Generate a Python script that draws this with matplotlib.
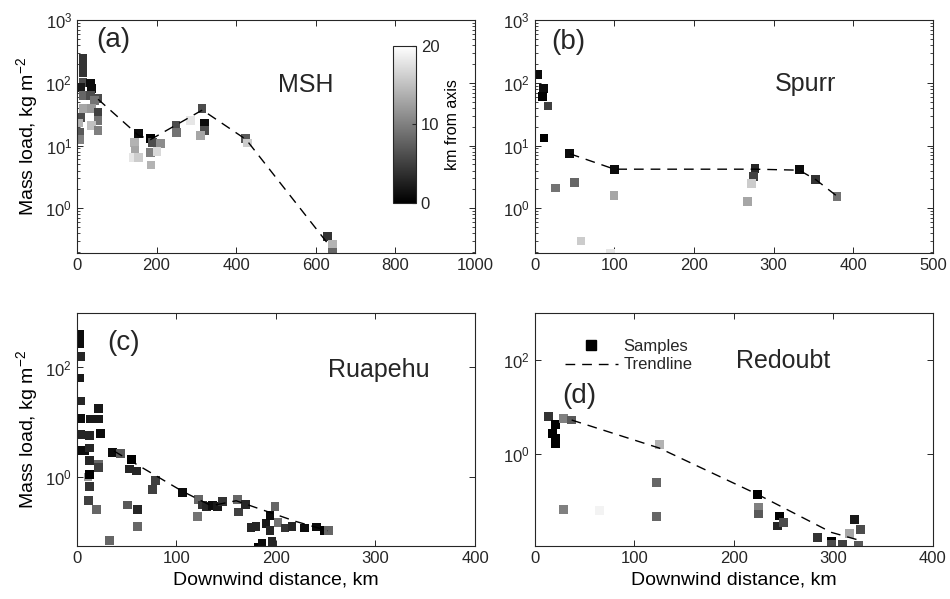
import numpy as np
import matplotlib
matplotlib.use('Agg')
import matplotlib.pyplot as plt
from matplotlib.lines import Line2D
from matplotlib.ticker import NullLocator

plt.rcParams['font.family'] = ['Liberation Sans', 'DejaVu Sans']
plt.rcParams['mathtext.fontset'] = 'custom'
plt.rcParams['mathtext.rm'] = 'Liberation Sans'
plt.rcParams['mathtext.it'] = 'Liberation Sans:italic'
plt.rcParams['mathtext.bf'] = 'Liberation Sans:bold'
plt.rcParams['text.color'] = '#262626'
plt.rcParams['axes.edgecolor'] = '#262626'
plt.rcParams['xtick.color'] = '#262626'
plt.rcParams['ytick.color'] = '#262626'

# (a) Mount St Helens: distance (km), mass load (kg m-2), distance from axis (km)
msh_dist = [15, 15, 15, 15, 8, 34, 37, 15, 34, 53, 45, 15, 37, 53, 8, 53, 5, 37, 53, 6, 6,
            154, 184, 144, 189, 209, 146, 184, 201, 141, 154, 186,
            249, 251, 285, 314, 320, 320, 310, 423, 428, 630, 642, 642]
msh_load = [247, 190, 148, 102, 85, 100, 82, 63, 63, 57, 53, 39, 39, 34, 28, 25, 23, 21, 17.5, 16, 12.6,
            15.7, 13, 11.3, 11.3, 10.9, 8.4, 7.8, 8.1, 6.5, 6.5, 4.9,
            21, 16, 25, 39, 23, 17.5, 14.6, 13, 11, 0.35, 0.26, 0.20]
msh_off = [4, 4, 4, 6, 2, 1, 1, 8, 6, 6, 9, 13, 12, 5, 6, 9, 14, 15, 10, 7, 10,
           1, 0, 14, 6, 11, 13, 10, 17, 18, 16, 14,
           6, 9, 18, 6, 1, 6, 13, 7, 16, 4, 14, 8]
msh_trend_x = [53, 155, 185, 315, 425, 637]
msh_trend_y = [55, 14.5, 12.5, 37, 12.5, 0.24]

# (b) Spurr
spurr_dist = [3, 10.5, 10, 16.5, 11.5, 44, 26, 49.5, 100.5, 99.5, 58, 95,
              276.5, 275, 272.5, 267.5, 332, 353, 379.5]
spurr_load = [136, 81, 61, 43, 13.2, 7.4, 2.1, 2.6, 4.2, 1.58, 0.30, 0.19,
              4.3, 3.2, 2.46, 1.27, 4.1, 2.85, 1.54]
spurr_off = [1, 1, 0, 5, 0, 1, 9, 8, 1, 13, 16, 18,
             3, 5, 16, 13, 1, 4, 9]
spurr_trend_x = [44, 100, 277, 332, 353, 380]
spurr_trend_y = [7.4, 4.2, 4.2, 4.05, 2.85, 1.54]

# (c) Ruapehu
ruap_dist = [2.5, 2.5, 2.5, 4, 2.5, 4, 4, 4, 4, 8, 22, 14, 22, 13, 24, 13, 13, 22, 22, 11, 13, 13,
             12, 20, 33, 36, 44, 55, 53, 60, 51, 61, 61, 79, 76, 106, 122, 121, 126, 130, 136,
             141, 146, 161, 162, 169, 175, 180, 182, 186, 190, 194, 199, 194, 196, 202, 209,
             216, 229, 241, 249, 253]
ruap_load = [400, 330, 270, 159, 64, 24.5, 11.8, 6.0, 3.1, 3.1, 18, 11.5, 11.5, 5.8, 6.2, 3.4, 2.0,
             1.7, 1.5, 1.0, 1.12, 0.68, 0.37, 0.26, 0.069, 2.8, 2.7, 2.1, 1.4, 1.29, 0.31, 0.26,
             0.124, 0.87, 0.59, 0.52, 0.39, 0.19, 0.31, 0.29, 0.30, 0.29, 0.36, 0.39, 0.23, 0.32,
             0.12, 0.124, 0.052, 0.062, 0.14, 0.20, 0.29, 0.105, 0.067, 0.146, 0.118, 0.126,
             0.118, 0.123, 0.105, 0.105]
ruap_off = [1, 1, 1, 3, 2, 3, 1, 3, 1, 1, 2, 2, 2, 3, 1, 3, 3, 8, 5, 12, 0, 4,
            5, 8, 8, 1, 7, 0, 3, 3, 7, 3, 8, 5, 5, 1, 8, 9, 4, 3, 1,
            2, 4, 8, 5, 3, 3, 3, 0, 1, 2, 1, 8, 3, 3, 9, 4,
            3, 1, 1, 0, 8]
ruap_trend_x = [37, 106, 135, 160, 220, 252]
ruap_trend_y = [3.0, 0.55, 0.30, 0.37, 0.155, 0.105]

# (d) Redoubt
red_dist = [13.4, 21, 17.8, 21, 21, 28.5, 37, 28.5, 64.6, 125, 122, 122, 223.5, 225, 225,
            246, 244, 250, 283.7, 298, 298, 309, 316, 321, 327.6, 325]
red_load = [6.3, 4.2, 2.8, 2.2, 1.65, 5.8, 5.3, 0.068, 0.063, 1.63, 0.25, 0.048, 0.142, 0.075,
            0.054, 0.049, 0.030, 0.035, 0.0174, 0.0141, 0.012, 0.012, 0.021, 0.041, 0.025, 0.0114]
red_off = [4, 0, 0, 0, 0, 10, 7, 10, 19, 14, 8, 8, 0, 10, 7, 0, 3, 6, 4, 0, 6, 5, 13, 2, 6, 7]
red_trend_x = [37, 125, 224, 298, 326]
red_trend_y = [5.3, 1.35, 0.14, 0.022, 0.015]

fig = plt.figure(figsize=(9.5, 5.99), dpi=100)

W = 0.419
H = 0.389
ax_a = fig.add_axes([0.081, 0.577, W, H])
ax_b = fig.add_axes([0.563, 0.577, W, H])
ax_c = fig.add_axes([0.081, 0.089, W, H])
ax_d = fig.add_axes([0.563, 0.089, W, H])

panels = [
    (ax_a, msh_dist, msh_load, msh_off, msh_trend_x, msh_trend_y, 1000, 200, 0.19),
    (ax_b, spurr_dist, spurr_load, spurr_off, spurr_trend_x, spurr_trend_y, 500, 100, 0.19),
    (ax_c, ruap_dist, ruap_load, ruap_off, ruap_trend_x, ruap_trend_y, 400, 100, 0.056),
    (ax_d, red_dist, red_load, red_off, red_trend_x, red_trend_y, 400, 100, 0.0115),
]

for ax, d, m, off, tx, ty, xmax, xstep, ylo in panels:
    ax.scatter(d, m, c=off, cmap='gray', vmin=0, vmax=20, marker='s', s=40,
               linewidths=0, zorder=2)
    ax.plot(tx, ty, color='k', lw=1, dashes=(7, 5), zorder=3)
    ax.set_yscale('log')
    ax.set_xlim(0, xmax)
    ax.set_ylim(ylo, 1000)
    ax.set_xticks(np.arange(0, xmax + 1, xstep))
    ax.tick_params(which='both', direction='in', top=True, right=True, labelsize=12)
    ax.tick_params(which='major', length=4, width=0.7)
    ax.tick_params(which='minor', length=2, width=0.6)
    for sp in ax.spines.values():
        sp.set_linewidth(0.8)

for ax in (ax_c, ax_d):
    ax.set_yticks([1, 100])
    ax.yaxis.set_minor_locator(NullLocator())
    ax.set_xlabel('Downwind distance, km', fontsize=14)

ax_a.set_ylabel('Mass load, kg m$^{-2}$', fontsize=14)
ax_c.set_ylabel('Mass load, kg m$^{-2}$', fontsize=14)

ax_a.text(0.091, 0.914, '(a)', transform=ax_a.transAxes, fontsize=20, ha='center', va='center')
ax_a.text(0.574, 0.721, 'MSH', transform=ax_a.transAxes, fontsize=18, ha='center', va='center')
ax_b.text(0.083, 0.907, '(b)', transform=ax_b.transAxes, fontsize=20, ha='center', va='center')
ax_b.text(0.681, 0.728, 'Spurr', transform=ax_b.transAxes, fontsize=18, ha='center', va='center')
ax_c.text(0.118, 0.869, '(c)', transform=ax_c.transAxes, fontsize=20, ha='center', va='center')
ax_c.text(0.759, 0.754, 'Ruapehu', transform=ax_c.transAxes, fontsize=18, ha='center', va='center')
ax_d.text(0.111, 0.641, '(d)', transform=ax_d.transAxes, fontsize=20, ha='center', va='center')
ax_d.text(0.624, 0.791, 'Redoubt', transform=ax_d.transAxes, fontsize=18, ha='center', va='center')

handles = [Line2D([], [], marker='s', color='k', ls='none', markersize=6.5),
           Line2D([], [], color='k', lw=1, dashes=(7, 5))]
ax_d.legend(handles, ['Samples', 'Trendline'], loc='upper left', bbox_to_anchor=(0.058, 0.915),
            borderaxespad=0, frameon=False, fontsize=12, handlelength=3.2,
            labelspacing=0.2, handletextpad=0.35)

# colorbar inside panel (a)
cax = fig.add_axes([0.4134, 0.6616, 0.0245, 0.262])
cb = fig.colorbar(ax_a.collections[0], cax=cax)
cb.set_ticks([0, 10, 20])
cb.ax.tick_params(labelsize=12, direction='in', length=3)
cb.set_label('km from axis', fontsize=11.5)
cb.outline.set_linewidth(0.8)

fig.savefig('out.png', dpi=100)
